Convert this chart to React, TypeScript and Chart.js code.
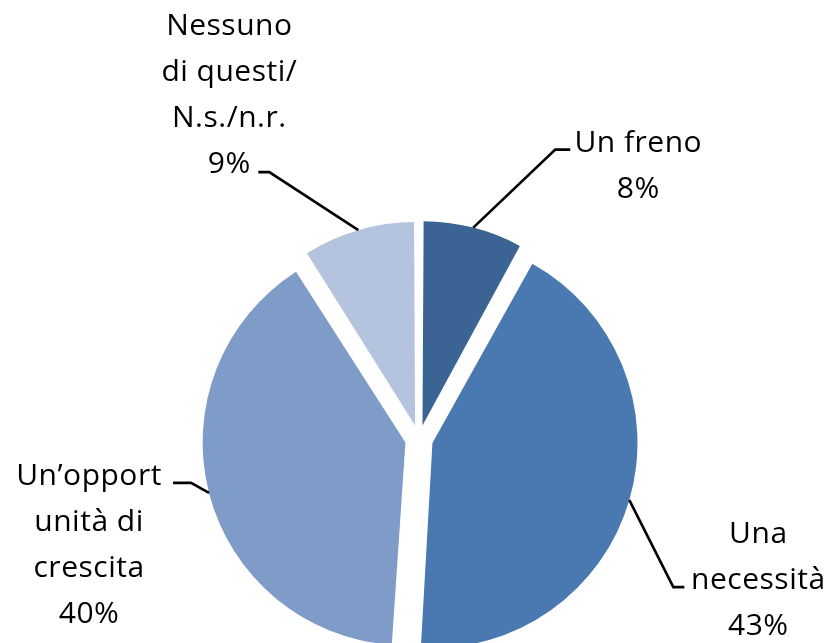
import React, { useEffect, useRef } from "react";
import { Chart, registerables } from "chart.js";

Chart.register(...registerables);

// ---- data ----
const categories = [
  "Un freno",
  "Una necessità",
  "Un’opportunità di crescita",
  "Nessuno di questi/ N.s./n.r.",
];
const values = [8, 43, 40, 9];
const labelLines = [
  ["Un freno"],
  ["Una", "necessità"],
  ["Un’opport", "unità di", "crescita"],
  ["Nessuno", "di questi/", "N.s./n.r."],
];
const colors = ["#3B6495", "#4A79B2", "#7F9BC8", "#B4C4DE"];

// ---- label layout, relative to the slice's outer mid-point ----
const LABEL_LAYOUT = [
  { elbow: [82, -78], end: [97, -78], textDx: 165, firstBaseline: -76 },
  { elbow: [44, 87], end: [55, 87], textDx: 129, firstBaseline: 43 },
  { elbow: [-18, -10], end: [-36, -10], textDx: -120, firstBaseline: -8 },
  { elbow: [-89, -58], end: [-100, -58], textDx: -129, firstBaseline: -195 },
];
const LINE_HEIGHT = 46;
const FONT = "30px 'Open Sans'";
const EXPLODE = 56; // chart.js divides arc offset by 4 => 14px

const labelPlugin = {
  id: "pieLabels",
  afterDatasetsDraw(chart: any) {
    const ctx = chart.ctx as CanvasRenderingContext2D;
    const meta = chart.getDatasetMeta(0);
    meta.data.forEach((arc: any, i: number) => {
      const p = arc.getProps(
        ["x", "y", "startAngle", "endAngle", "outerRadius", "circumference"],
        true
      );
      const off = (arc.options.offset || 0) / 4;
      const fix = 1 - Math.sin(Math.min(Math.PI, p.circumference || 0));
      const r = p.outerRadius + off * fix + off;
      const m = (p.startAngle + p.endAngle) / 2;
      const ax = p.x + Math.cos(m) * r;
      const ay = p.y + Math.sin(m) * r;
      const L = LABEL_LAYOUT[i];
      ctx.save();
      ctx.strokeStyle = "#000";
      ctx.lineWidth = 2.6;
      ctx.lineJoin = "miter";
      ctx.beginPath();
      ctx.moveTo(ax, ay);
      ctx.lineTo(ax + L.elbow[0], ay + L.elbow[1]);
      ctx.lineTo(ax + L.end[0], ay + L.end[1]);
      ctx.stroke();
      ctx.fillStyle = "#000";
      ctx.font = FONT;
      (ctx as any).letterSpacing = "0.5px";
      ctx.textAlign = "center";
      ctx.textBaseline = "alphabetic";
      const lines = [...labelLines[i], `${values[i]}%`];
      lines.forEach((t, k) => {
        ctx.fillText(t, ax + L.textDx, ay + L.firstBaseline + k * LINE_HEIGHT);
      });
      ctx.restore();
    });
  },
};

export default function App() {
  const ref = useRef<HTMLCanvasElement | null>(null);
  useEffect(() => {
    if (!ref.current) return;
    const chart = new Chart(ref.current, {
      type: "pie",
      data: {
        labels: categories,
        datasets: [
          {
            data: values,
            backgroundColor: colors,
            borderWidth: 0,
            offset: EXPLODE,
            hoverOffset: 0,
          },
        ],
      },
      options: {
        responsive: false,
        animation: false,
        events: [],
        radius: 197,
        layout: { padding: { left: 6, right: 0, top: 235, bottom: 0 } },
        plugins: {
          legend: { display: false },
          tooltip: { enabled: false },
        },
      },
      plugins: [labelPlugin],
    });
    return () => chart.destroy();
  }, []);
  return (
    <div style={{ position: "absolute", left: 0, top: 0, width: 832, height: 643, background: "#fff" }}>
      <canvas ref={ref} width={832} height={643} style={{ display: "block" }} />
    </div>
  );
}
